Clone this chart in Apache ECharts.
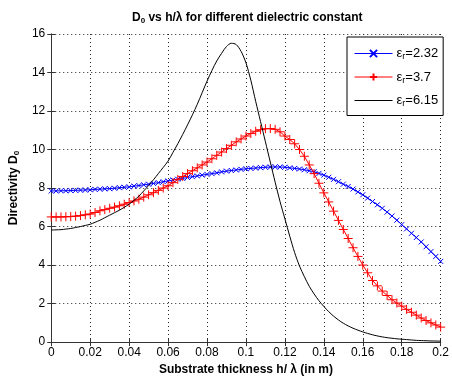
<!DOCTYPE html>
<html>
<head>
<meta charset="utf-8">
<script src="https://cdn.jsdelivr.net/npm/echarts@6/dist/echarts.min.js"></script>
<style>html,body{margin:0;padding:0;background:#fff}#c{width:452px;height:381px}</style>
</head>
<body>
<div id="c"></div>
<script>
// sampling grid h/lambda: 0 .. 0.2 step 0.0025 (81 samples)
var xStart = 0, xStep = 0.0025, nPts = 81;
var seriesNames = ['2.32', '3.7', '6.15'];
var yTicks = [0, 2, 4, 6, 8, 10, 12, 14, 16];
var xTicks = [0, 0.02, 0.04, 0.06, 0.08, 0.1, 0.12, 0.14, 0.16, 0.18, 0.2];

var er232 = [7.85,7.85,7.86,7.86,7.87,7.88,7.89,7.90,7.91,7.93,7.94,7.96,7.97,7.99,8.02,8.04,8.06,8.10,8.13,8.17,
  8.20,8.24,8.28,8.33,8.37,8.42,8.46,8.50,8.55,8.59,8.63,8.67,8.71,8.75,8.79,8.84,8.88,8.91,8.94,8.97,
  9.00,9.02,9.04,9.06,9.08,9.09,9.10,9.09,9.08,9.05,9.02,8.99,8.95,8.90,8.85,8.76,8.67,8.56,8.45,8.33,
  8.20,8.08,7.95,7.80,7.65,7.48,7.30,7.13,6.95,6.75,6.55,6.33,6.10,5.88,5.65,5.43,5.20,4.95,4.70,4.45,4.19];

var er37 = [6.50,6.50,6.50,6.51,6.52,6.54,6.57,6.61,6.65,6.73,6.82,6.88,6.95,7.01,7.08,7.16,7.25,7.33,7.42,7.53,
  7.65,7.76,7.88,8.00,8.12,8.28,8.45,8.60,8.75,8.90,9.05,9.20,9.35,9.52,9.70,9.87,10.05,10.22,10.40,10.55,
  10.70,10.83,10.95,11.03,11.08,11.09,11.05,10.92,10.70,10.52,10.30,10.00,9.65,9.20,8.75,8.25,7.75,7.28,6.80,6.32,
  5.85,5.38,4.90,4.45,4.00,3.60,3.20,2.92,2.65,2.42,2.20,2.03,1.87,1.70,1.55,1.40,1.25,1.12,1.00,0.89,0.78];

var er615 = [5.82,5.83,5.84,5.87,5.90,5.95,6.00,6.06,6.12,6.22,6.33,6.46,6.59,6.72,6.85,7.00,7.16,7.36,7.58,7.85,
  8.13,8.43,8.75,9.07,9.40,9.85,10.30,10.78,11.28,11.80,12.35,12.95,13.55,14.10,14.60,15.00,15.35,15.52,15.45,15.10,
  14.50,13.60,12.50,11.45,10.40,9.35,8.30,7.30,6.40,5.50,4.65,3.95,3.40,2.90,2.50,2.15,1.85,1.58,1.35,1.15,
  0.98,0.84,0.72,0.62,0.53,0.45,0.38,0.32,0.27,0.23,0.20,0.17,0.15,0.13,0.11,0.09,0.08,0.07,0.06,0.055,0.05];

function pairs(ys) {
  var out = [];
  for (var i = 0; i < ys.length; i++) out.push([+(xStart + i * xStep).toFixed(4), ys[i]]);
  return out;
}

var FONT = 'Liberation Sans, Arial, sans-serif';
var chart = echarts.init(document.getElementById('c'), null, {renderer: 'canvas'});

var plusPath = 'path://M0,5L10,5M5,0L5,10';
var crossPath = 'path://M0,0L10,10M10,0L0,10';
var nonePath = 'path://M0,0L10,0L10,10L0,10Z';

var hiddenAxisCommon = {
  axisLine: {show: true, lineStyle: {color: '#333', width: 1}},
  axisTick: {show: true, inside: true, length: 4, lineStyle: {color: '#333'}},
  axisLabel: {show: false},
  splitLine: {show: false}
};

chart.setOption({
  animation: false,
  backgroundColor: '#fff',
  title: {
    text: '{a|D}{s|0}{a| vs h/λ for different dielectric constant}',
    left: 127, top: 5,
    textStyle: {
      rich: {
        a: {fontFamily: FONT, fontSize: 12, fontWeight: 'bold', color: '#000'},
        s: {fontFamily: FONT, fontSize: 8, fontWeight: 'bold', color: '#000', padding: [7, 0, 0, 0]}
      }
    }
  },
  legend: {
    orient: 'vertical',
    left: 347, top: 37,
    padding: [10, 5, 7, 7],
    itemWidth: 38, itemHeight: 9, itemGap: 9,
    backgroundColor: '#fff',
    borderColor: '#000', borderWidth: 1, borderRadius: 0,
    lineStyle: {width: 1},
    data: ['2.32', '3.7', '6.15'],
    formatter: function (n) { return '{e|ε}{s|r}{e|=' + n + '}'; },
    textStyle: {
      padding: [0, 0, 0, -1],
      rich: {
        e: {fontFamily: FONT, fontSize: 13, color: '#000'},
        s: {fontFamily: FONT, fontSize: 9, color: '#000', padding: [7, 0, 0, 0]}
      }
    }
  },
  grid: {left: 50, right: 7, top: 34, bottom: 34, containLabel: false},
  xAxis: [{
    type: 'value', min: 0, max: 0.2, interval: 0.02,
    name: 'Substrate thickness h/ λ (in m)',
    nameLocation: 'middle', nameGap: 18,
    nameTextStyle: {fontFamily: FONT, fontSize: 12, fontWeight: 'bold', color: '#000'},
    axisLine: {show: true, onZero: false, lineStyle: {color: '#333', width: 1}},
    axisTick: {show: true, inside: true, length: 4, lineStyle: {color: '#333'}},
    axisLabel: {
      fontFamily: FONT, fontSize: 12, color: '#000', margin: 5,
      formatter: function (v) { return String(+v.toFixed(2)); }
    },
    splitLine: {show: true, lineStyle: {color: '#222', width: 1, type: [1, 3]}}
  }, Object.assign({
    type: 'value', min: 0, max: 0.2, interval: 0.02, position: 'top'
  }, hiddenAxisCommon)],
  yAxis: [{
    type: 'value', min: 0, max: 16, interval: 2,
    name: '{n|Directivity D}{s|0}',
    nameLocation: 'middle', nameGap: 28, nameRotate: 90,
    nameTextStyle: {
      rich: {
        n: {fontFamily: FONT, fontSize: 12, fontWeight: 'bold', color: '#000'},
        s: {fontFamily: FONT, fontSize: 8, fontWeight: 'bold', color: '#000', padding: [6, 0, 0, 0]}
      }
    },
    axisLine: {show: true, onZero: false, lineStyle: {color: '#333', width: 1}},
    axisTick: {show: true, inside: true, length: 4, lineStyle: {color: '#333'}},
    axisLabel: {fontFamily: FONT, fontSize: 12, color: '#000', margin: 6},
    splitLine: {show: true, lineStyle: {color: '#222', width: 1, type: [1, 3]}}
  }, Object.assign({
    type: 'value', min: 0, max: 16, interval: 2, position: 'right'
  }, hiddenAxisCommon)],
  series: [{
    name: '2.32', type: 'line', data: pairs(er232),
    symbol: crossPath, symbolSize: 5, showAllSymbol: true,
    lineStyle: {color: '#0000ff', width: 1},
    itemStyle: {color: 'transparent', borderColor: '#0000ff', borderWidth: 1},
    z: 3
  }, {
    name: '3.7', type: 'line', data: pairs(er37),
    symbol: plusPath, symbolSize: 9, showAllSymbol: true,
    lineStyle: {color: '#ff0000', width: 1},
    itemStyle: {color: 'transparent', borderColor: '#ff0000', borderWidth: 1},
    z: 4
  }, {
    name: '6.15', type: 'line', data: pairs(er615),
    symbol: nonePath, showSymbol: false, smooth: 0.3,
    lineStyle: {color: '#000', width: 1},
    itemStyle: {color: 'transparent', borderColor: 'transparent', borderWidth: 0},
    z: 5
  }]
});
</script>
</body>
</html>
